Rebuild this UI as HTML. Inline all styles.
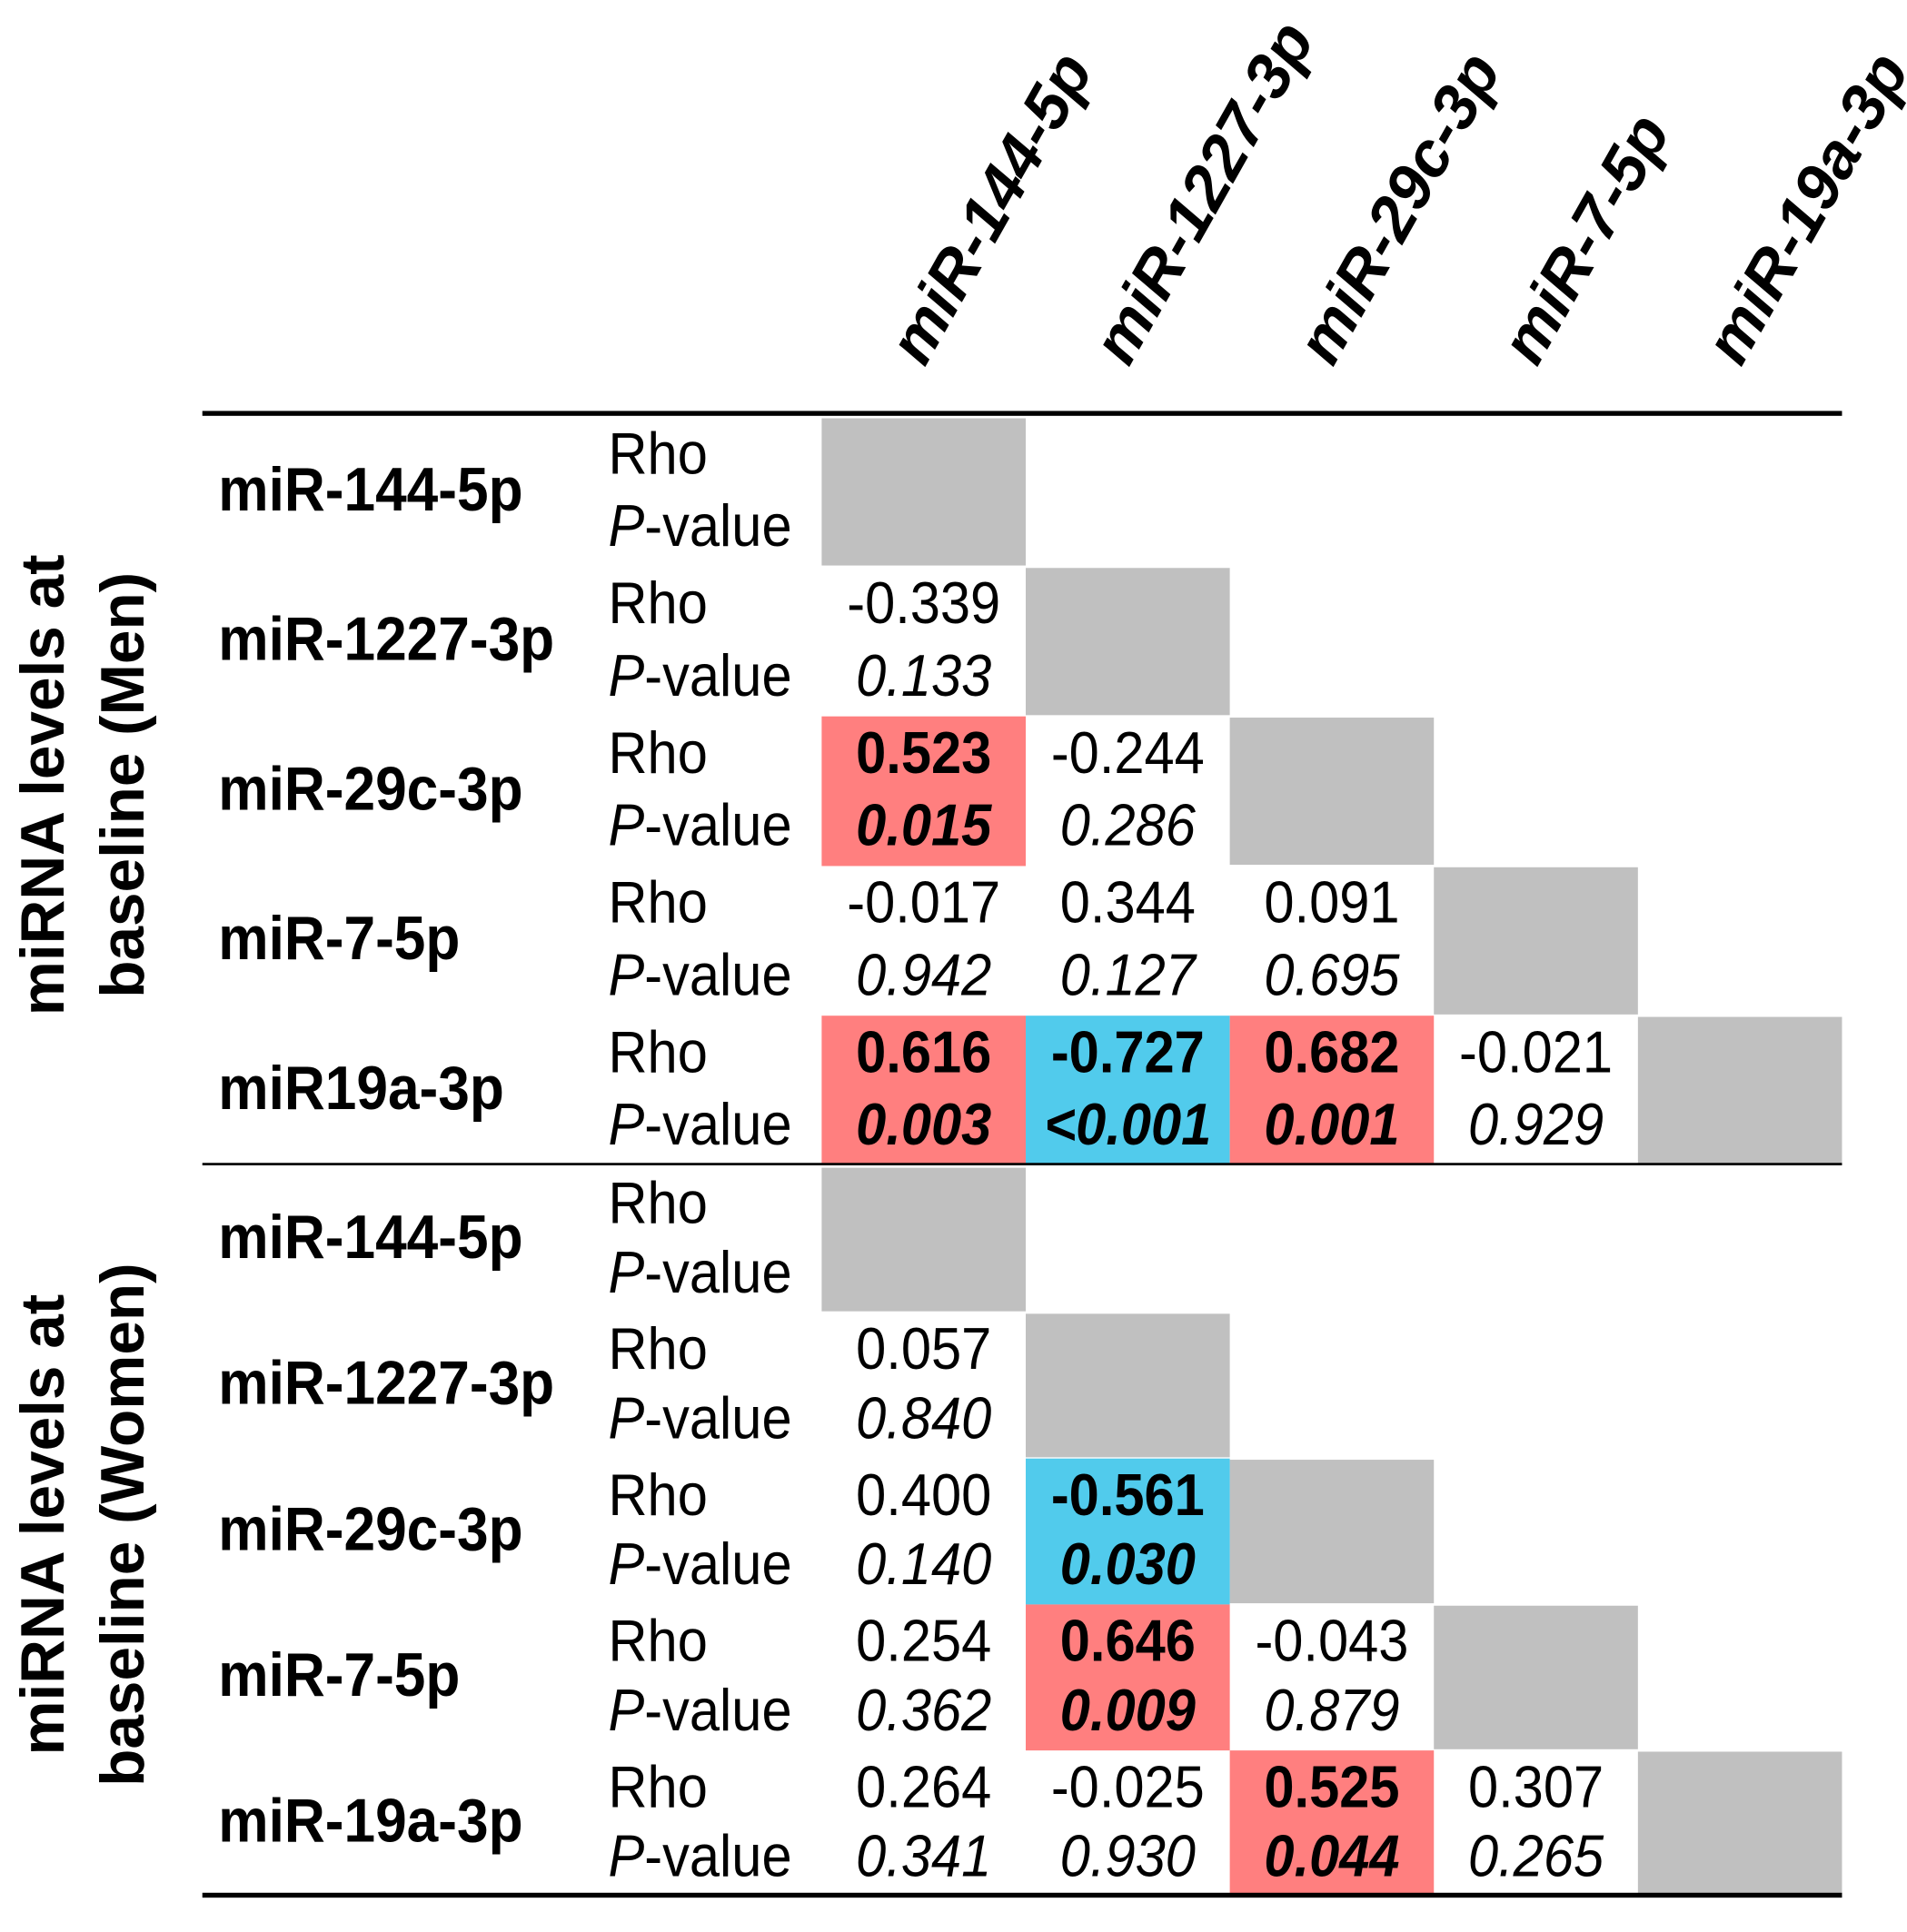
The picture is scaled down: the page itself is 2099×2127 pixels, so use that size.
<!DOCTYPE html>
<html><head><meta charset="utf-8">
<style>
html,body{margin:0;padding:0;background:#fff;}
svg{display:block;}
text{font-family:"Liberation Sans",Arial,sans-serif;}
</style></head>
<body>
<svg id="chart" width="2099" height="2127" viewBox="0 0 1555 1575" preserveAspectRatio="none" xmlns="http://www.w3.org/2000/svg"></svg>
<script>
const mirnas = ["miR-144-5p","miR-1227-3p","miR-29c-3p","miR-7-5p","miR-19a-3p"];
const menRowLabels = ["miR-144-5p","miR-1227-3p","miR-29c-3p","miR-7-5p","miR19a-3p"];
const womenRowLabels = ["miR-144-5p","miR-1227-3p","miR-29c-3p","miR-7-5p","miR-19a-3p"];
const menRho = [
  [null,null,null,null],
  ["-0.339",null,null,null],
  ["0.523","-0.244",null,null],
  ["-0.017","0.344","0.091",null],
  ["0.616","-0.727","0.682","-0.021"]
];
const menP = [
  [null,null,null,null],
  ["0.133",null,null,null],
  ["0.015","0.286",null,null],
  ["0.942","0.127","0.695",null],
  ["0.003","<0.001","0.001","0.929"]
];
const womenRho = [
  [null,null,null,null],
  ["0.057",null,null,null],
  ["0.400","-0.561",null,null],
  ["0.254","0.646","-0.043",null],
  ["0.264","-0.025","0.525","0.307"]
];
const womenP = [
  [null,null,null,null],
  ["0.840",null,null,null],
  ["0.140","0.030",null,null],
  ["0.362","0.009","0.879",null],
  ["0.341","0.930","0.044","0.265"]
];

const svg = document.getElementById('chart');
const NS = "http://www.w3.org/2000/svg";
function mk(tag, attrs, parent){
  const e = document.createElementNS(NS, tag);
  for (const k in attrs) e.setAttribute(k, attrs[k]);
  (parent||svg).appendChild(e);
  return e;
}
const colX0 = 670, colW = 166.4;
const colX = j => colX0 + j*colW;
const RED = "#ff7f7f", BLUE = "#51cbec", GRAY = "#c0c0c0";
const FS = 46;
const TX = (x,y)=>`translate(${x},${y}) scale(0.96,1.04)`;

mirnas.forEach((m,j)=>{
  const t = mk('text',{x:0,y:0,'font-size':52,'font-style':'italic','font-weight':'600',transform:`translate(${colX(j)+84},${300}) rotate(-60.5)`});
  t.textContent = m;
  
  
});

function block(top, rowH, labels, rho, pv, groupName, titleLines, titleCy){
  for (let i=0;i<5;i++){
    const y = top + i*rowH;
    const lab = mk('text',{x:0,y:0,'font-size':48,'font-weight':'bold',transform:TX(178,y+rowH/2+16)});
    lab.textContent = labels[i];
    
    
    const yR = y+47, yP = y+rowH*0.87;
    const r = mk('text',{x:0,y:0,'font-size':FS,transform:TX(496,yR)});
    r.textContent = "Rho";
    
    
    const p = mk('text',{x:0,y:0,'font-size':FS,transform:TX(496,yP)});
    p.innerHTML = '<tspan font-style="italic">P</tspan>-value';
    
    
    const g = mk('rect',{x:colX(i),y:y+2,width:colW,height:rowH-2,fill:GRAY});
    
    
    for (let j=0;j<i;j++){
      const rv = rho[i][j], pval = pv[i][j];
      const pnum = parseFloat(pval.replace('<',''));
      const sig = pnum < 0.05;
      const neg = parseFloat(rv) < 0;
      if (sig){
        const c = mk('rect',{x:colX(j),y:y+1,width:colW,height:rowH,fill:neg?BLUE:RED});
        
        
      }
      const cx = colX(j)+colW/2;
      const t1 = mk('text',{x:0,y:0,'font-size':FS,'text-anchor':'middle','font-weight':sig?'bold':'normal',transform:TX(cx,yR)});
      t1.textContent = rv;
      
      
      const t2 = mk('text',{x:0,y:0,'font-size':FS,'text-anchor':'middle','font-style':'italic','font-weight':sig?'bold':'normal',transform:TX(cx,yP)});
      t2.textContent = pval;
      
      
    }
  }
  const tt = mk('text',{x:0,y:0,'font-size':50,'font-weight':'bold','text-anchor':'middle',transform:`translate(52,${titleCy}) rotate(-90)`});
  tt.textContent = titleLines[0];
  
  
  const tt2 = mk('text',{x:0,y:0,'font-size':50,'font-weight':'bold','text-anchor':'middle',transform:`translate(117,${titleCy}) rotate(-90)`});
  tt2.textContent = titleLines[1];
  
  
}
block(339, 122, menRowLabels, menRho, menP, 'men', ["miRNA levels at","baseline (Men)"], 640);
block(950, 119, womenRowLabels, womenRho, womenP, 'women', ["miRNA levels at","baseline (Women)"], 1243);

const l1 = mk('rect',{x:165,y:335,width:1337,height:4,fill:'#000'});


const l2 = mk('rect',{x:165,y:948,width:1337,height:2,fill:'#000'});


const l3 = mk('rect',{x:165,y:1543,width:1337,height:4,fill:'#000'});


</script>
</body></html>
